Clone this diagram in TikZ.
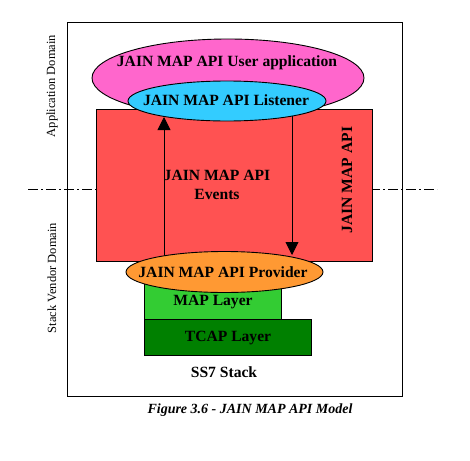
\documentclass[tikz,border=0pt]{standalone}
\usepackage{fontspec}
\setmainfont{Liberation Serif}
\usetikzlibrary{shapes.geometric,arrows.meta}
\definecolor{apired}{RGB}{255,82,82}
\definecolor{apipink}{RGB}{255,102,204}
\definecolor{apicyan}{RGB}{51,204,255}
\definecolor{apiorange}{RGB}{255,153,51}
\definecolor{maplight}{RGB}{51,204,51}
\definecolor{tcapdark}{RGB}{0,128,0}
\tikzset{
  lbl/.style={font=\fontsize{15.6}{18}\selectfont\bfseries, text=black, inner sep=0pt},
  oval/.style={ellipse, draw=black, line width=0.9pt, inner sep=0pt, outer sep=0pt},
  layer/.style={draw=black, line width=0.9pt, inner sep=0pt, outer sep=0pt, anchor=north west},
  evarrow/.style={draw=black, line width=0.9pt, -{Triangle[length=13pt,width=13pt]}},
  domlabel/.style={font=\fontsize{12.5}{14}\selectfont, rotate=90},
  divider/.style={line width=0.8pt, dash pattern=on 10pt off 3pt on 2pt off 3pt}
}
\begin{document}
\begin{tikzpicture}[x=1pt,y=-1pt]
\useasboundingbox (0,0) rectangle (470,460);
% outer frame
\node[draw=black, line width=0.9pt, minimum width=335pt, minimum height=374pt, anchor=north west, inner sep=0pt] (frame) at (67,22) {};
% domain divider
\coordinate (divL) at (28,189);
\coordinate (divR) at (437,189);
\draw[divider] (divL) -- (divR);
% domain labels
\node[domlabel] (appdom) at (52,86) {Application Domain};
\node[domlabel] (vendom) at (52,278) {Stack Vendor Domain};
% JAIN MAP API block
\node[fill=apired, draw=black, line width=0.9pt, minimum width=276pt, minimum height=152pt, anchor=north west, inner sep=0pt] (api) at (96,109) {};
\node[lbl, rotate=90] (apilbl) at (347,180) {JAIN MAP API};
\node[lbl, align=center] (events) at (217,185) {JAIN MAP API\\[1pt]Events};
% event arrows (drawn under the ovals)
\coordinate (upfoot) at (164,258);
\coordinate (uptip) at (164,117);
\coordinate (downfoot) at (292,114);
\coordinate (downtip) at (292,255);
\draw[evarrow] (upfoot) -- (uptip);
\draw[evarrow] (downfoot) -- (downtip);
% user application and listener
\node[oval, fill=apipink, minimum width=272pt, minimum height=78pt] (userapp) at (228,78) {};
\node[lbl] (userlbl) at (227,63) {JAIN MAP API User application};
\node[oval, fill=apicyan, minimum width=198pt, minimum height=40pt] (listener) at (227,101) {};
\node[lbl] (listlbl) at (226,100) {JAIN MAP API Listener};
% SS7 stack layers
\node[layer, fill=tcapdark, minimum width=167pt, minimum height=36pt] (tcap) at (144,319) {};
\node[lbl] (tcaplbl) at (228,338) {TCAP Layer};
\node[layer, fill=maplight, minimum width=137pt, minimum height=50pt] (map) at (144,269) {};
\node[lbl] (maplbl) at (213,302) {MAP Layer};
% provider
\node[oval, fill=apiorange, minimum width=197pt, minimum height=41pt] (provider) at (224.5,272) {};
\node[lbl] (provlbl) at (223,272) {JAIN MAP API Provider};
% stack label
\node[lbl] (ss7) at (224,372) {SS7 Stack};
% caption
\node[font=\fontsize{14}{16}\selectfont\bfseries\itshape] (caption) at (250,410) {Figure 3.6 - JAIN MAP API Model};
\end{tikzpicture}
\end{document}
